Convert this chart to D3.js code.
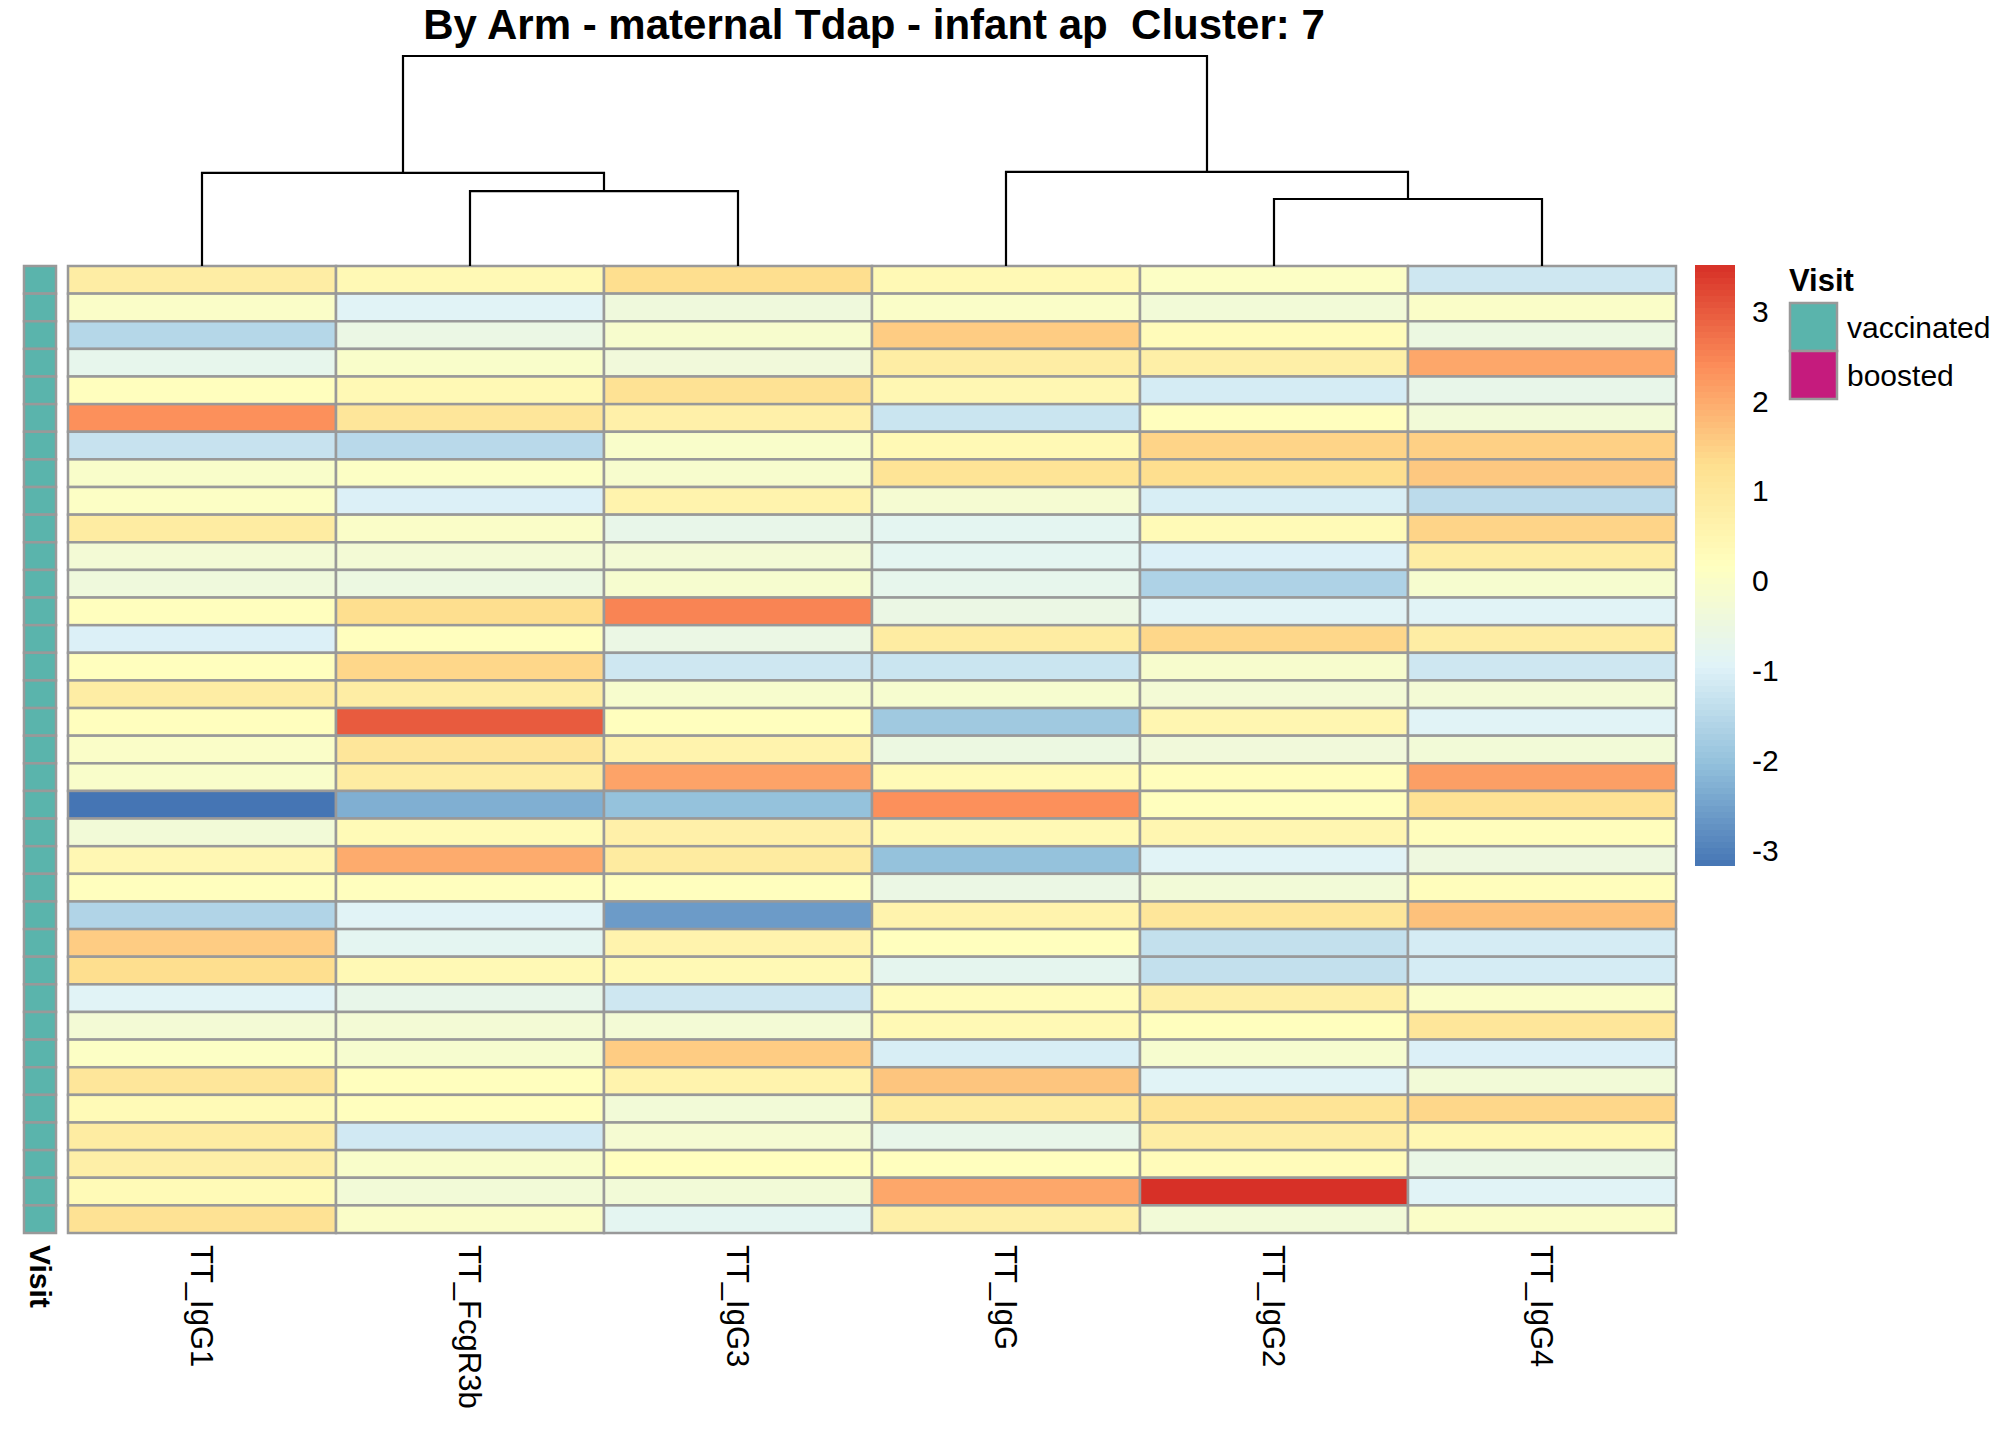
<!DOCTYPE html>
<html>
<head>
<meta charset="utf-8">
<script src="https://cdn.jsdelivr.net/npm/d3@7"></script>
<style>
  body { margin: 0; background: #fff; }
  text { font-family: "Liberation Sans", Arial, sans-serif; }
</style>
</head>
<body>
<div id="container"></div>
<script>
// column order as shown after clustering
var features = ["TT_IgG1", "TT_FcgR3b", "TT_IgG3", "TT_IgG", "TT_IgG2", "TT_IgG4"];

// scaled values, one array per column, top row first
var igg1   = [0.8, 0.0, -1.55, -0.7, 0.2, 2.35, -1.3, -0.05, 0.05, 0.85, -0.25, -0.4, 0.2, -1.0, 0.2, 0.8, 0.2, 0.0, -0.05, -3.17, -0.3, 0.45, 0.2, -1.6, 1.55, 1.3, -0.9, -0.25, 0.05, 1.05, 0.35, 0.85, 0.75, 0.35, 1.2];
var fcgr3b = [0.4, -0.9, -0.55, -0.05, 0.4, 1.05, -1.5, 0.05, -1.0, 0.0, -0.25, -0.5, 1.3, 0.2, 1.4, 0.8, 3.0, 1.05, 0.85, -2.3, 0.35, 2.0, 0.2, -0.9, -0.8, 0.4, -0.65, -0.25, -0.15, 0.2, 0.2, -1.15, -0.05, -0.3, 0.0];
var igg3   = [1.3, -0.4, -0.1, -0.35, 1.2, 0.7, -0.05, -0.1, 0.6, -0.65, -0.25, -0.15, 2.5, -0.55, -1.2, -0.1, 0.2, 0.6, 2.1, -2.0, 0.7, 0.9, 0.2, -2.6, 0.6, 0.4, -1.2, -0.25, 1.55, 0.6, -0.3, -0.2, 0.2, -0.3, -0.8];
var igg    = [0.4, 0.0, 1.55, 0.8, 0.45, -1.25, 0.4, 1.15, -0.2, -0.8, -0.8, -0.7, -0.55, 0.85, -1.25, -0.15, -1.85, -0.5, 0.35, 2.35, 0.4, -2.0, -0.55, 0.6, 0.2, -0.75, 0.3, 0.4, -1.05, 1.65, 0.9, -0.65, 0.2, 2.05, 0.75];
var igg2   = [0.05, -0.3, 0.3, 0.75, -1.1, 0.2, 1.45, 1.3, -1.05, 0.35, -1.0, -1.65, -0.9, 1.4, -0.1, -0.25, 0.5, -0.35, 0.25, 0.2, 0.5, -0.9, -0.3, 1.05, -1.35, -1.35, 0.75, 0.2, -0.15, -0.9, 1.15, 0.8, 0.3, 3.51, -0.3];
var igg4   = [-1.2, 0.0, -0.5, 2.05, -0.65, -0.3, 1.5, 1.6, -1.45, 1.45, 0.8, -0.15, -0.9, 0.8, -1.2, -0.25, -0.9, -0.3, 2.15, 1.2, 0.25, -0.45, 0.25, 1.7, -1.1, -1.1, 0.0, 1.05, -1.0, -0.3, 1.4, 0.45, -0.6, -0.9, 0.0];

// visit annotation per row
var visit = ["vaccinated", "vaccinated", "vaccinated", "vaccinated", "vaccinated", "vaccinated", "vaccinated",
  "vaccinated", "vaccinated", "vaccinated", "vaccinated", "vaccinated", "vaccinated", "vaccinated",
  "vaccinated", "vaccinated", "vaccinated", "vaccinated", "vaccinated", "vaccinated", "vaccinated",
  "vaccinated", "vaccinated", "vaccinated", "vaccinated", "vaccinated", "vaccinated", "vaccinated",
  "vaccinated", "vaccinated", "vaccinated", "vaccinated", "vaccinated", "vaccinated", "vaccinated"];
var visitLevels = ["vaccinated", "boosted"];
var visitColors = ["#5AB4AC", "#C51B7D"];

// column dendrogram: [left, right, height]; negative = leaf index, positive = merge number (1-based)
var merges = [
  [-2, -3, 0.357],
  [-5, -6, 0.319],
  [-1, 1, 0.443],
  [-4, 2, 0.448],
  [3, 4, 1.0]
];

var legendTicks = [3, 2, 1, 0, -1, -2, -3];
var palette = ["#4575B4", "#91BFDB", "#E0F3F8", "#FFFFBF", "#FEE090", "#FC8D59", "#D73027"];

var columns = [igg1, fcgr3b, igg3, igg, igg2, igg4];
var nRows = igg1.length;

var W = 2016, H = 1440;
var heat = { left: 68, right: 1676, top: 266, bottom: 1233 };

var svg = d3.select("#container").append("svg")
  .attr("width", W).attr("height", H);
svg.append("rect").attr("width", W).attr("height", H).attr("fill", "#fff");

var x = d3.scaleBand().domain(d3.range(features.length)).range([heat.left, heat.right]);
var y = d3.scaleBand().domain(d3.range(nRows)).range([heat.top, heat.bottom]);

var allVals = d3.merge(columns);
var vmin = d3.min(allVals), vmax = d3.max(allVals);
var color = d3.scaleLinear()
  .domain(palette.map(function (d, i) { return vmin + i * (vmax - vmin) / (palette.length - 1); }))
  .range(palette)
  .interpolate(d3.interpolateRgb);

// cells
var cells = [];
columns.forEach(function (col, j) {
  col.forEach(function (v, i) { cells.push({ r: i, c: j, v: v }); });
});
svg.append("g").selectAll("rect")
  .data(cells)
  .enter().append("rect")
  .attr("x", function (d) { return x(d.c); })
  .attr("y", function (d) { return y(d.r); })
  .attr("width", x.bandwidth())
  .attr("height", y.bandwidth())
  .attr("fill", function (d) { return color(d.v); })
  .attr("stroke", "#999999")
  .attr("stroke-width", 2.5);

// visit annotation column
var visitColor = d3.scaleOrdinal().domain(visitLevels).range(visitColors);
svg.append("g").selectAll("rect")
  .data(visit)
  .enter().append("rect")
  .attr("x", 24)
  .attr("y", function (d, i) { return y(i); })
  .attr("width", 32)
  .attr("height", y.bandwidth())
  .attr("fill", function (d) { return visitColor(d); })
  .attr("stroke", "#999999")
  .attr("stroke-width", 2.5);

// dendrogram
var hy = d3.scaleLinear().domain([0, 1]).range([heat.top, 56]);
var nodes = [];
function nodePos(id) {
  if (id < 0) return { x: x(-id - 1) + x.bandwidth() / 2, h: 0 };
  return nodes[id - 1];
}
var dendro = svg.append("g").attr("fill", "none").attr("stroke", "#000").attr("stroke-width", 2.2);
merges.forEach(function (m) {
  var a = nodePos(m[0]), b = nodePos(m[1]);
  nodes.push({ x: (a.x + b.x) / 2, h: m[2] });
  dendro.append("path")
    .attr("d", "M" + a.x + "," + hy(a.h) + "V" + hy(m[2]) + "H" + b.x + "V" + hy(b.h));
});

// title
svg.append("text")
  .attr("x", (heat.left + heat.right) / 2 + 2)
  .attr("y", 39)
  .attr("text-anchor", "middle")
  .style("white-space", "pre")
  .attr("font-size", 42)
  .attr("font-weight", "bold")
  .text("By Arm - maternal Tdap - infant ap  Cluster: 7");

// column labels
svg.append("g").selectAll("text")
  .data(features)
  .enter().append("text")
  .attr("transform", function (d, i) { return "translate(" + (x(i) + x.bandwidth() / 2) + ",1245) rotate(90)"; })
  .attr("dy", "0.35em")
  .attr("font-size", 31)
  .text(function (d) { return d; });

svg.append("text")
  .attr("transform", "translate(40,1245) rotate(90)")
  .attr("dy", "0.35em")
  .attr("font-size", 30)
  .attr("font-weight", "bold")
  .text("Visit");

// colour legend
var ly = d3.scaleLinear().domain([vmin, vmax]).range([865.5, 265.5]);
var steps = d3.range(100).map(function (k) { return vmin + k * (vmax - vmin) / 100; });
var stepH = (ly(vmin) - ly(vmax)) / 100;
svg.append("g").selectAll("rect")
  .data(steps)
  .enter().append("rect")
  .attr("x", 1695)
  .attr("y", function (d) { return ly(d) - stepH - 0.5; })
  .attr("width", 40)
  .attr("height", stepH + 1)
  .attr("fill", function (d) { return color(d + (vmax - vmin) / 200); });

svg.append("g").selectAll("text")
  .data(legendTicks)
  .enter().append("text")
  .attr("x", 1752)
  .attr("y", function (d) { return ly(d); })
  .attr("dy", "0.35em")
  .attr("font-size", 30)
  .text(function (d) { return d; });

// visit legend
svg.append("text")
  .attr("x", 1789).attr("y", 291)
  .attr("font-size", 31)
  .attr("font-weight", "bold")
  .text("Visit");
var vl = svg.append("g").selectAll("g")
  .data(visitLevels)
  .enter().append("g")
  .attr("transform", function (d, i) { return "translate(1790," + (303 + i * 48) + ")"; });
vl.append("rect")
  .attr("width", 47).attr("height", 48)
  .attr("fill", function (d) { return visitColor(d); })
  .attr("stroke", "#999999")
  .attr("stroke-width", 2.5);
vl.append("text")
  .attr("x", 57).attr("y", 24)
  .attr("dy", "0.35em")
  .attr("font-size", 30)
  .text(function (d) { return d; });
</script>
</body>
</html>
